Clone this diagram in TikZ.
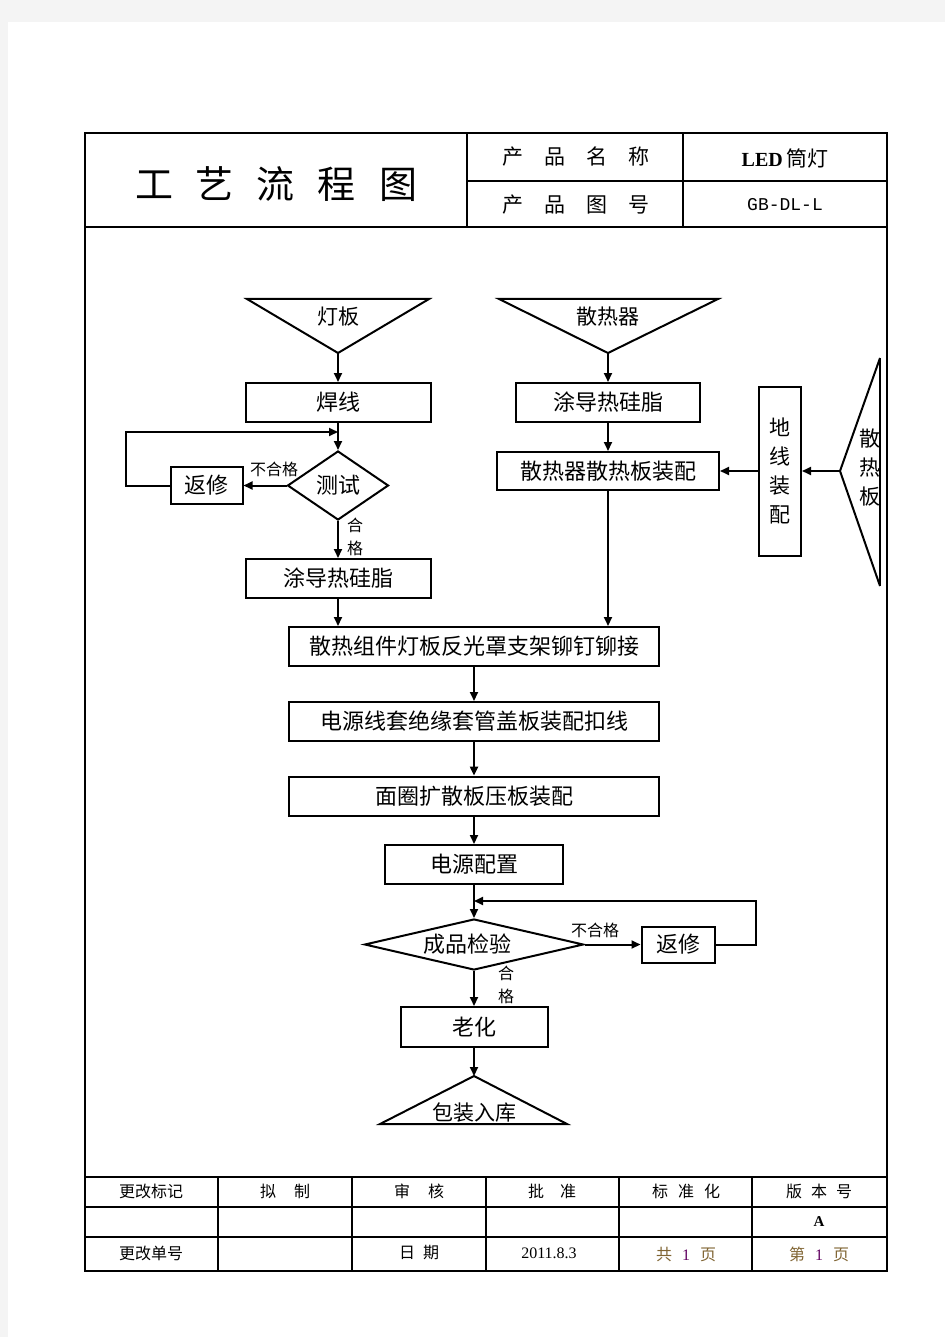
\documentclass[tikz,border=0pt]{standalone}
\usepackage{fontspec}
\setmainfont{Liberation Serif}
\newfontfamily\cjk{Noto Sans CJK SC}
\newfontfamily\codefont{Liberation Mono}
\usetikzlibrary{calc}
\usetikzlibrary{shapes.geometric, arrows.meta, positioning}
\definecolor{pagegray}{RGB}{244,244,244}
\definecolor{pagebrown}{RGB}{128,100,50}
\definecolor{pagepurple}{RGB}{96,0,96}
\tikzset{
procbox/.style = {rectangle, draw=black, line width=2pt, minimum height=39pt, inner sep=0pt, align=center, font=\cjk\fontsize{22}{26}\selectfont},
decide/.style = {diamond, draw=black, line width=2pt, inner sep=0pt, align=center, font=\cjk\fontsize{22}{26}\selectfont},
flowarrow/.style = {line width=2pt, -{Triangle[length=9pt,width=8pt]}},
flowline/.style = {line width=2pt},
tableline/.style = {line width=1.2pt},
yesno/.style = {inner sep=0pt, align=center, font=\cjk\fontsize{16}{23}\selectfont},
cellt/.style = {inner sep=0pt, font=\cjk\fontsize{16}{16}\selectfont},
headt/.style = {inner sep=0pt, font=\cjk\fontsize{21}{21}\selectfont}
}

\begin{document}
\begin{tikzpicture}[x=1pt, y=-1pt]

\useasboundingbox (0,0) rectangle (945,1337);
\fill[pagegray] (0,0) rectangle (945,1337);
\fill[white] (8,22) rectangle (945,1337);

% frame and header
\draw[tableline] (85,133) rectangle (887,1271);
\draw[tableline] (85,227) -- (887,227);
\draw[tableline] (467,181) -- (887,181);
\draw[tableline] (467,133) -- (467,227);
\draw[tableline] (683,133) -- (683,227);
\node (title) [headt, font=\cjk\fontsize{38}{38}\selectfont] at (276,184) {工\hspace{23pt}艺\hspace{23pt}流\hspace{23pt}程\hspace{23pt}图};
\node (namekey) [headt] at (576,157) {产\hspace{21pt}品\hspace{21pt}名\hspace{21pt}称};
\node (codekey) [headt] at (576,205) {产\hspace{21pt}品\hspace{21pt}图\hspace{21pt}号};
\node (nameval) [headt] at (785,158) {{\rmfamily\bfseries\fontsize{20}{20}\selectfont LED}\,筒灯};
\node (codeval) [headt, font=\codefont\fontsize{18}{18}\selectfont] at (785,205) {GB-DL-L};

% left branch
\node (hanxian) [procbox, minimum width=185pt] at (338,402.5) {焊线};
\coordinate (dbtip) at ($(hanxian.north)+(0,-29)$);
\draw[flowline] (dbtip) -- ++(-91,-54) -- ++(182,0) -- cycle;
\node (dengban) [inner sep=0pt, font=\cjk\fontsize{21}{21}\selectfont] at ($(dbtip)+(0,-36)$) {灯板};
\node (ceshi) [decide, minimum width=101pt, minimum height=69pt, below=27pt of hanxian] {测试};
\node (fanxiu1) [procbox, minimum width=72pt, minimum height=37pt, left=43pt of ceshi] {返修};
\node (tudao1) [procbox, minimum width=185pt, below=37pt of ceshi] {涂导热硅脂};
\coordinate (loop1) at ($(hanxian.south)+(0,9)$);

\draw[flowarrow] (dbtip) -- (hanxian);
\draw[flowarrow] (hanxian) -- (ceshi);
\draw[flowarrow] (ceshi) -- (fanxiu1);
\draw[flowarrow] (fanxiu1.west) -- ++(-44,0) |- (loop1);
\draw[flowarrow] (ceshi) -- (tudao1);
\node (bad1) [yesno] at (274,469) {不合格};
\node (good1) [yesno] at (355,537) {合\\格};

% right branch
\node (tudao2) [procbox, minimum width=184pt] at (608,402.5) {涂导热硅脂};
\coordinate (srqtip) at ($(tudao2.north)+(0,-29)$);
\draw[flowline] (srqtip) -- ++(-109,-54) -- ++(219,0) -- cycle;
\node (sanreqi) [inner sep=0pt, font=\cjk\fontsize{21}{21}\selectfont] at ($(srqtip)+(0,-36)$) {散热器};
\node (peizhuang) [procbox, minimum width=222pt, minimum height=38pt, below=28pt of tudao2] {散热器散热板装配};
\node (dixian) [procbox, minimum width=42pt, minimum height=169pt, right=38pt of peizhuang, font=\cjk\fontsize{21}{29}\selectfont] {地\\线\\装\\配};
\coordinate (sbtip) at ($(dixian.east)+(38,0)$);
\draw[flowline] (880,358) -- (sbtip) -- (880,586);
\draw[flowline] (880,358) -- (880,586);
\node (sanreban) [inner sep=0pt, align=center, font=\cjk\fontsize{21}{29}\selectfont] at (870,468) {散\\热\\板};

\draw[flowarrow] (srqtip) -- (tudao2);
\draw[flowarrow] (tudao2) -- (peizhuang);
\draw[flowarrow] (sbtip) -- (dixian);
\draw[flowarrow] (dixian) -- (peizhuang);

% main chain
\node (zujian) [procbox, minimum width=370pt] at (474,646.5) {散热组件灯板反光罩支架铆钉铆接};
\node (taoguan) [procbox, minimum width=370pt, below=34pt of zujian] {电源线套绝缘套管盖板装配扣线};
\node (mianquan) [procbox, minimum width=370pt, line width=2.8pt, below=33.6pt of taoguan] {面圈扩散板压板装配};
\node (dianyuan) [procbox, minimum width=178pt, below=26.6pt of mianquan] {电源配置};
\node (jianyan) [decide, aspect=4.3, minimum width=219pt, minimum height=51pt, below=33pt of dianyuan] {\hspace*{-14pt}成品检验};
\node (fanxiu2) [procbox, minimum width=73pt, minimum height=36pt, right=56pt of jianyan] {返修};
\node (laohua) [procbox, minimum width=147pt, minimum height=40pt, below=35pt of jianyan] {老化};
\coordinate (bztip) at ($(laohua.south)+(0,28)$);
\draw[flowline] (bztip) -- ++(93,48) -- ++(-187,0) -- cycle;
\node (baozhuang) [inner sep=0pt, font=\cjk\fontsize{21}{21}\selectfont] at ($(bztip)+(0,37)$) {包装入库};
\coordinate (loop2) at ($(dianyuan.south)+(0,16)$);

\draw[flowarrow] (tudao1.south) -- (tudao1.south |- zujian.north);
\draw[flowarrow] (peizhuang.south) -- (peizhuang.south |- zujian.north);
\draw[flowarrow] (zujian) -- (taoguan);
\draw[flowarrow] (taoguan) -- (mianquan);
\draw[flowarrow] (mianquan) -- (dianyuan);
\draw[flowarrow] (dianyuan) -- (jianyan);
\draw[flowarrow] (jianyan) -- (fanxiu2);
\draw[flowarrow] (fanxiu2.east) -- ++(40,0) |- (loop2);
\draw[flowarrow] (jianyan) -- (laohua);
\draw[flowarrow] (laohua) -- (bztip);
\node (bad2) [yesno] at (595,930) {不合格};
\node (good2) [yesno] at (506,985) {合\\格};

% footer
\draw[tableline] (85,1177) -- (887,1177);
\draw[tableline] (85,1207) -- (887,1207);
\draw[tableline] (85,1237) -- (887,1237);
\foreach \xcol in {218,352,486,619,752}
  \draw[tableline] (\xcol,1177) -- (\xcol,1271);
\node (markhead) [cellt] at (151,1191) {更改标记};
\node (drafthead) [cellt] at (285,1191) {拟\hspace{18pt}制};
\node (checkhead) [cellt] at (419,1191) {审\hspace{18pt}核};
\node (approvehead) [cellt] at (552,1191) {批\hspace{16pt}准};
\node (stdhead) [cellt] at (686,1191) {标\hspace{10pt}准\hspace{10pt}化};
\node (verhead) [cellt] at (819,1191) {版\hspace{9pt}本\hspace{9pt}号};
\node (verval) [cellt, font=\rmfamily\bfseries\fontsize{15}{15}\selectfont] at (819,1222) {A};
\node (orderhead) [cellt] at (151,1253) {更改单号};
\node (datehead) [cellt] at (419,1253) {日\hspace{8pt}期};
\node (dateval) [cellt, font=\rmfamily\fontsize{16}{16}\selectfont] at (549,1253) {2011.8.3};
\node (totalpages) [cellt, text=pagebrown] at (686,1254) {共\hspace{10pt}{\rmfamily\color{pagepurple}1}\hspace{10pt}页};
\node (thispage) [cellt, text=pagebrown] at (819,1254) {第\hspace{10pt}{\rmfamily\color{pagepurple}1}\hspace{10pt}页};

\end{tikzpicture}
\end{document}
